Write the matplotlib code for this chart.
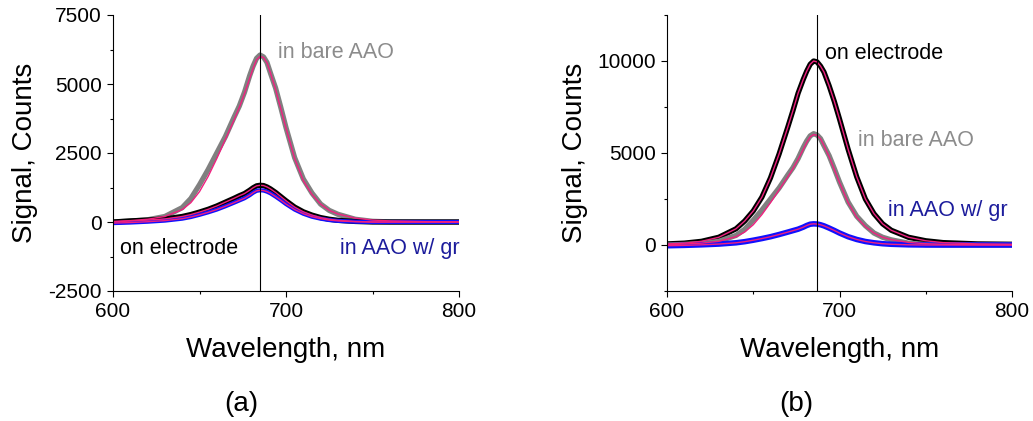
import numpy as np
import matplotlib.pyplot as plt
from matplotlib.ticker import MultipleLocator

plt.rcParams['font.family'] = ['Liberation Sans', 'DejaVu Sans']
plt.rcParams['axes.unicode_minus'] = False

# wavelength grid (nm), denser near the peak
wl = [600, 610, 620, 630, 640, 645, 650, 655, 660, 665, 670, 673, 676, 679, 681,
      683, 685, 687, 689, 691, 694, 697, 700, 705, 710, 715, 720, 725, 730, 740,
      750, 760, 780, 800]

# in bare AAO (same sample in both panels)
bare_aao = [0, 30, 80, 200, 520, 850, 1350, 1900, 2500, 3100, 3800, 4200, 4700,
            5300, 5650, 5930, 6050, 5980, 5780, 5400, 4850, 4150, 3420, 2330, 1560,
            1050, 650, 420, 280, 100, 25, 5, 0, 0]
bare_aao_fit = [20, 50, 100, 200, 450, 700, 1100, 1650, 2300, 3000, 3700, 4150,
                4650, 5200, 5570, 5880, 6000, 5960, 5770, 5400, 4800, 4100, 3400,
                2300, 1500, 1000, 650, 420, 290, 140, 70, 40, 15, 5]

# panel (a): on electrode
electrode_a = [0, 40, 70, 110, 200, 270, 360, 460, 580, 720, 860, 950, 1030, 1150,
               1240, 1310, 1330, 1320, 1270, 1200, 1070, 920, 770, 540, 370, 250,
               160, 100, 60, 20, 0, 0, 0, 0]

# in AAO with graphene (both panels)
aao_gr = [-40, -20, 10, 50, 120, 180, 260, 350, 450, 570, 700, 780, 860, 970, 1060,
          1130, 1150, 1140, 1100, 1040, 920, 790, 650, 450, 300, 190, 120, 70, 40,
          10, 0, 0, 0, 0]

# panel (b): on electrode
electrode_b = [60, 100, 200, 420, 880, 1300, 1850, 2600, 3650, 4950, 6400, 7300,
               8250, 9000, 9450, 9820, 10000, 9950, 9720, 9400, 8650, 7800, 6850,
               5200, 3700, 2500, 1700, 1150, 800, 420, 230, 130, 60, 40]

peak_a = 685
peak_b = 687

gray = '#808080'
pink = '#f0207f'
navy = '#1c1c9c'

fig = plt.figure(figsize=(10.33, 4.21), dpi=100)
ax1 = fig.add_axes([113 / 1033, 130 / 421, 346 / 1033, 276 / 421])
ax2 = fig.add_axes([667 / 1033, 130 / 421, 345 / 1033, 276 / 421])

# (a)
ax1.plot(wl, bare_aao, color=gray, lw=3.8)
ax1.plot(wl, electrode_a, color='black', lw=3.8)
ax1.plot(wl, aao_gr, color='#1010ff', lw=3.0)
ax1.plot(wl, bare_aao_fit, color=pink, lw=1.0)
ax1.plot(wl, electrode_a, color=pink, lw=1.0)
ax1.plot(wl, aao_gr, color=pink, lw=1.0)
ax1.axvline(peak_a, color='black', lw=0.8)
ax1.set_ylim(-2500, 7500)
ax1.yaxis.set_major_locator(MultipleLocator(2500))
ax1.yaxis.set_minor_locator(MultipleLocator(1250))
ax1.text(695.5, 6150, 'in bare AAO', color='#8c8c8c', fontsize=15.5, va='center')
ax1.text(604, -960, 'on electrode', color='black', fontsize=15.5, va='center')
ax1.text(731, -960, 'in AAO w/ gr', color=navy, fontsize=15.5, va='center',
         clip_on=False)

# (b)
ax2.plot(wl, electrode_b, color='black', lw=3.8)
ax2.plot(wl, bare_aao, color=gray, lw=3.8)
ax2.plot(wl, aao_gr, color='#1010ff', lw=4.0)
ax2.plot(wl, electrode_b, color=pink, lw=1.0)
ax2.plot(wl, bare_aao_fit, color=pink, lw=1.0)
ax2.plot(wl, aao_gr, color=pink, lw=1.0)
ax2.axvline(peak_b, color='black', lw=0.8)
ax2.set_ylim(-2500, 12500)
ax2.yaxis.set_major_locator(MultipleLocator(5000))
ax2.yaxis.set_minor_locator(MultipleLocator(2500))
ax2.text(691.5, 10400, 'on electrode', color='black', fontsize=15.5, va='center')
ax2.text(711, 5700, 'in bare AAO', color='#8c8c8c', fontsize=15.5, va='center')
ax2.text(728, 1850, 'in AAO w/ gr', color=navy, fontsize=15.5, va='center')

for ax in (ax1, ax2):
    ax.set_xlim(600, 800)
    ax.xaxis.set_major_locator(MultipleLocator(100))
    ax.xaxis.set_minor_locator(MultipleLocator(50))
    ax.spines['top'].set_visible(False)
    ax.spines['right'].set_visible(False)
    ax.tick_params(which='major', direction='out', length=4, width=0.8,
                   labelsize=15, pad=4)
    ax.tick_params(which='minor', direction='out', length=2.5, width=0.8)
    ax.set_xlabel('Wavelength, nm', fontsize=20)
    ax.set_ylabel('Signal, Counts', fontsize=20)
    ax.xaxis.set_label_coords(0.5, -0.165)

ax1.yaxis.set_label_coords(-0.218, 0.5)
ax2.yaxis.set_label_coords(-0.23, 0.5)

fig.text(241 / 1033, 1 - 404 / 421, '(a)', fontsize=20, ha='center', va='center')
fig.text(796 / 1033, 1 - 404 / 421, '(b)', fontsize=20, ha='center', va='center')

fig.savefig('out.png', dpi=100)
